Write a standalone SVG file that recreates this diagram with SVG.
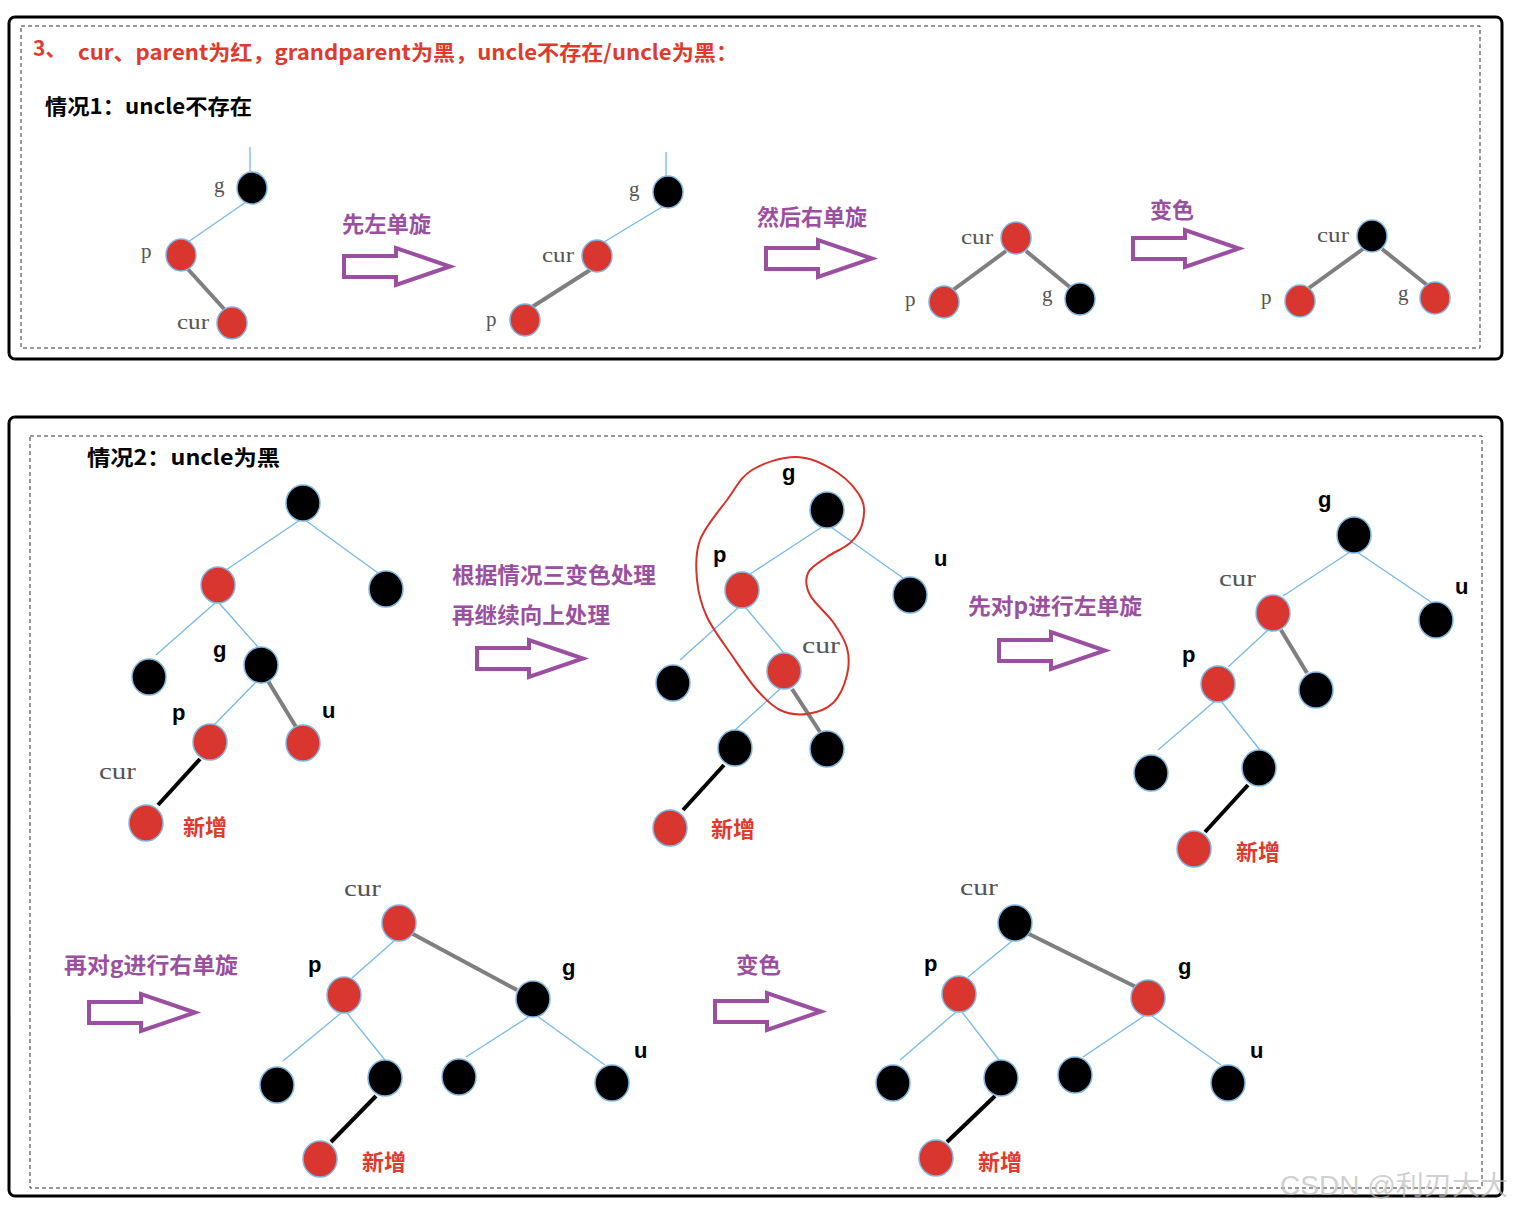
<svg xmlns="http://www.w3.org/2000/svg" width="1514" height="1211" viewBox="0 0 1514 1211">
<style>
.frame{fill:none;stroke:#000;stroke-width:3}
.dash{fill:none;stroke:#333;stroke-width:1;stroke-dasharray:4 3}
.b{fill:#000;stroke:#7fb6e2;stroke-width:1.5}
.r{fill:#d93630;stroke:#7fb6e2;stroke-width:1.5}
.ln{stroke:#78b8ea;stroke-width:1.3;fill:none}
.gl{stroke:#7f7f7f;stroke-width:4;fill:none}
.kl{stroke:#000;stroke-width:4;fill:none}
.arr{fill:#fff;stroke:#9a4fa0;stroke-width:4}
.title{font-family:"Noto Sans CJK SC","Liberation Sans",sans-serif;font-weight:bold;font-size:21px;fill:#e03a2e}
.head{font-family:"Noto Sans CJK SC","Liberation Sans",sans-serif;font-weight:bold;font-size:21px;fill:#000}
.pu{font-family:"Noto Sans CJK SC","Liberation Sans",sans-serif;font-weight:bold;font-size:22px;fill:#9a4fa0}
.new{font-family:"Noto Sans CJK SC",sans-serif;font-weight:bold;font-size:22px;fill:#e03a2e}
.sl{font-family:"Liberation Serif",serif;font-size:21px;fill:#555}
.sl2{font-family:"Liberation Serif",serif;font-size:24px;fill:#555}
.bl{font-family:"Liberation Sans",Arial,sans-serif;font-weight:bold;font-size:22px;fill:#000}
.wm{font-family:"Liberation Sans","Noto Sans CJK SC",sans-serif;font-size:27px;fill:#bbb;fill-opacity:0.7}
</style>
<defs>
<path id="arrow" class="arr" d="M0,8 H52 V0 L106,18.5 L52,37 V29 H0 Z"/>
</defs>

<g id="panel1">
<rect class="frame" x="9" y="17" width="1493" height="342" rx="6"/>
<rect class="dash" x="21" y="26" width="1459" height="322"/>
<text class="title" x="33" y="56">3、</text>
<text class="title" x="78" y="60" textLength="660" lengthAdjust="spacingAndGlyphs">cur、parent为红，grandparent为黑，uncle不存在/uncle为黑：</text>
<text class="head" x="45" y="114" textLength="207" lengthAdjust="spacingAndGlyphs">情况1：uncle不存在</text>
</g>

<g id="panel2">
<rect class="frame" x="9" y="417" width="1493" height="779" rx="6"/>
<rect class="dash" x="30" y="436" width="1452" height="752"/>
<text class="head" x="87" y="465" textLength="193" lengthAdjust="spacingAndGlyphs">情况2：uncle为黑</text>
</g>

<g id="connectors">
<!-- case 1 tree 1 -->
<line class="ln" x1="250" y1="147" x2="250" y2="174"/>
<line class="ln" x1="246" y1="202" x2="188" y2="242"/>
<line class="gl" x1="186" y1="267" x2="225" y2="310"/>
<!-- case 1 tree 2 -->
<line class="ln" x1="666" y1="152" x2="666" y2="179"/>
<line class="ln" x1="662" y1="207" x2="604" y2="242"/>
<line class="gl" x1="590" y1="270" x2="532" y2="307"/>
<!-- case 1 tree 3 -->
<line class="gl" x1="1006" y1="251" x2="953" y2="290"/>
<line class="gl" x1="1026" y1="251" x2="1071" y2="288"/>
<!-- case 1 tree 4 -->
<line class="gl" x1="1363" y1="249" x2="1309" y2="288"/>
<line class="gl" x1="1382" y1="249" x2="1427" y2="285"/>
<!-- tree A -->
<line class="ln" x1="300" y1="520" x2="226" y2="570"/>
<line class="ln" x1="305" y1="520" x2="378" y2="573"/>
<line class="ln" x1="215" y1="603" x2="156" y2="655"/>
<line class="ln" x1="219" y1="603" x2="258" y2="647"/>
<line class="ln" x1="256" y1="682" x2="214" y2="725"/>
<line class="gl" x1="268" y1="681" x2="296" y2="727"/>
<line class="kl" x1="200" y1="759" x2="158" y2="805"/>
<!-- tree B -->
<line class="ln" x1="822" y1="527" x2="750" y2="574"/>
<line class="ln" x1="831" y1="527" x2="903" y2="578"/>
<line class="ln" x1="739" y1="607" x2="680" y2="660"/>
<line class="ln" x1="745" y1="607" x2="784" y2="653"/>
<line class="ln" x1="780" y1="689" x2="735" y2="730"/>
<line class="gl" x1="792" y1="689" x2="820" y2="732"/>
<line class="kl" x1="724" y1="765" x2="683" y2="810"/>
<!-- tree C -->
<line class="ln" x1="1350" y1="552" x2="1283" y2="596"/>
<line class="ln" x1="1357" y1="552" x2="1431" y2="602"/>
<line class="ln" x1="1268" y1="630" x2="1228" y2="667"/>
<line class="gl" x1="1281" y1="630" x2="1307" y2="673"/>
<line class="ln" x1="1215" y1="701" x2="1158" y2="750"/>
<line class="ln" x1="1221" y1="701" x2="1260" y2="750"/>
<line class="kl" x1="1248" y1="785" x2="1205" y2="832"/>
<!-- tree D -->
<line class="ln" x1="394" y1="941" x2="352" y2="978"/>
<line class="gl" x1="411" y1="933" x2="517" y2="990"/>
<line class="ln" x1="341" y1="1013" x2="283" y2="1061"/>
<line class="ln" x1="347" y1="1013" x2="385" y2="1060"/>
<line class="ln" x1="530" y1="1016" x2="466" y2="1057"/>
<line class="ln" x1="537" y1="1016" x2="605" y2="1065"/>
<line class="kl" x1="376" y1="1096" x2="331" y2="1142"/>
<!-- tree E -->
<line class="ln" x1="1012" y1="941" x2="968" y2="977"/>
<line class="gl" x1="1027" y1="933" x2="1136" y2="987"/>
<line class="ln" x1="956" y1="1012" x2="900" y2="1060"/>
<line class="ln" x1="962" y1="1012" x2="999" y2="1060"/>
<line class="ln" x1="1144" y1="1016" x2="1083" y2="1057"/>
<line class="ln" x1="1152" y1="1016" x2="1221" y2="1065"/>
<line class="kl" x1="995" y1="1096" x2="947" y2="1142"/>
</g>

<g id="arrows">
<use href="#arrow" x="344" y="248"/>
<text class="pu" x="342" y="232" textLength="89" lengthAdjust="spacingAndGlyphs">先左单旋</text>
<use href="#arrow" x="766" y="240"/>
<text class="pu" x="757" y="225" textLength="110" lengthAdjust="spacingAndGlyphs">然后右单旋</text>
<use href="#arrow" x="1133" y="230"/>
<text class="pu" x="1150" y="218" textLength="44" lengthAdjust="spacingAndGlyphs">变色</text>
<use href="#arrow" x="477" y="640"/>
<text class="pu" x="452" y="583" textLength="204" lengthAdjust="spacingAndGlyphs">根据情况三变色处理</text>
<text class="pu" x="452" y="623" textLength="158" lengthAdjust="spacingAndGlyphs">再继续向上处理</text>
<use href="#arrow" x="999" y="632"/>
<text class="pu" x="968" y="614" textLength="174" lengthAdjust="spacingAndGlyphs">先对p进行左单旋</text>
<use href="#arrow" x="89" y="994"/>
<text class="pu" x="64" y="973" textLength="174" lengthAdjust="spacingAndGlyphs">再对g进行右单旋</text>
<use href="#arrow" x="715" y="993"/>
<text class="pu" x="736" y="973" textLength="45" lengthAdjust="spacingAndGlyphs">变色</text>
</g>

<g id="case1-tree1">
<ellipse class="b" cx="252" cy="188" rx="15" ry="16"/>
<ellipse class="r" cx="181" cy="255" rx="15" ry="16"/>
<ellipse class="r" cx="232" cy="323" rx="15" ry="16"/>
<text class="sl" x="214" y="192">g</text>
<text class="sl" x="141" y="258">p</text>
<text class="sl" x="177" y="329" textLength="32" lengthAdjust="spacingAndGlyphs">cur</text>
</g>
<g id="case1-tree2">
<ellipse class="b" cx="668" cy="192" rx="15" ry="16"/>
<ellipse class="r" cx="597" cy="256" rx="15" ry="16"/>
<ellipse class="r" cx="525" cy="320" rx="15" ry="16"/>
<text class="sl" x="629" y="196">g</text>
<text class="sl" x="542" y="262" textLength="32" lengthAdjust="spacingAndGlyphs">cur</text>
<text class="sl" x="486" y="326">p</text>
</g>
<g id="case1-tree3">
<ellipse class="r" cx="1016" cy="238" rx="15" ry="16"/>
<ellipse class="r" cx="944" cy="302" rx="15" ry="16"/>
<ellipse class="b" cx="1080" cy="299" rx="15" ry="16"/>
<text class="sl" x="961" y="244" textLength="32" lengthAdjust="spacingAndGlyphs">cur</text>
<text class="sl" x="905" y="306">p</text>
<text class="sl" x="1042" y="301">g</text>
</g>
<g id="case1-tree4">
<ellipse class="b" cx="1372" cy="236" rx="15" ry="16"/>
<ellipse class="r" cx="1300" cy="301" rx="15" ry="16"/>
<ellipse class="r" cx="1435" cy="298" rx="15" ry="16"/>
<text class="sl" x="1317" y="242" textLength="32" lengthAdjust="spacingAndGlyphs">cur</text>
<text class="sl" x="1261" y="304">p</text>
<text class="sl" x="1398" y="300">g</text>
</g>

<g id="case2-treeA">
<ellipse class="b" cx="303" cy="503" rx="17" ry="18"/>
<ellipse class="r" cx="218" cy="585" rx="17" ry="18"/>
<ellipse class="b" cx="386" cy="589" rx="17" ry="18"/>
<ellipse class="b" cx="149" cy="677" rx="17" ry="18"/>
<ellipse class="b" cx="261" cy="665" rx="17" ry="18"/>
<ellipse class="r" cx="210" cy="742" rx="17" ry="18"/>
<ellipse class="r" cx="303" cy="743" rx="17" ry="18"/>
<ellipse class="r" cx="146" cy="823" rx="17" ry="18"/>
<text class="bl" x="213" y="657">g</text>
<text class="bl" x="172" y="720">p</text>
<text class="bl" x="322" y="718">u</text>
<text class="sl2" x="99" y="779" textLength="37" lengthAdjust="spacingAndGlyphs">cur</text>
<text class="new" x="183" y="835">新增</text>
</g>

<g id="case2-treeB">
<path d="M797,457 C811.3,457.5 827.2,465.8 838,473 S858,491.3 862,500 S864,517.8 862,525 S855.8,537.7 850,543 S834,552 827,557 S810.8,566.7 808,573 S805.8,586.8 810,595 S826.8,613.2 833,622 S844.7,639.2 847,648 S849.3,665.8 847,675 S839.7,696.5 833,703 S815.8,712.8 807,714 S788.3,714 780,710 S764.8,698.8 757,690 S741.3,669.2 733,657 S713,629.8 707,617 S698.2,592.8 697,580 S695,553.3 700,540 S718.3,511.7 727,500 S740.3,477.2 752,470 S782.7,456.5 797,457 Z" fill="none" stroke="#d9302a" stroke-width="2"/>
<ellipse class="b" cx="827" cy="510" rx="17" ry="18"/>
<ellipse class="r" cx="742" cy="590" rx="17" ry="18"/>
<ellipse class="b" cx="910" cy="595" rx="17" ry="18"/>
<ellipse class="b" cx="673" cy="683" rx="17" ry="18"/>
<ellipse class="r" cx="784" cy="671" rx="17" ry="18"/>
<ellipse class="b" cx="735" cy="748" rx="17" ry="18"/>
<ellipse class="b" cx="827" cy="749" rx="17" ry="18"/>
<ellipse class="r" cx="670" cy="828" rx="17" ry="18"/>
<text class="bl" x="782" y="480">g</text>
<text class="bl" x="713" y="562">p</text>
<text class="bl" x="934" y="566">u</text>
<text class="sl2" x="802" y="653" textLength="38" lengthAdjust="spacingAndGlyphs">cur</text>
<text class="new" x="711" y="837">新增</text>
</g>

<g id="case2-treeC">
<ellipse class="b" cx="1354" cy="535" rx="17" ry="18"/>
<ellipse class="r" cx="1273" cy="613" rx="17" ry="18"/>
<ellipse class="b" cx="1436" cy="620" rx="17" ry="18"/>
<ellipse class="r" cx="1218" cy="684" rx="17" ry="18"/>
<ellipse class="b" cx="1316" cy="690" rx="17" ry="18"/>
<ellipse class="b" cx="1151" cy="773" rx="17" ry="18"/>
<ellipse class="b" cx="1259" cy="768" rx="17" ry="18"/>
<ellipse class="r" cx="1194" cy="849" rx="17" ry="18"/>
<text class="bl" x="1318" y="507">g</text>
<text class="sl2" x="1219" y="586" textLength="37" lengthAdjust="spacingAndGlyphs">cur</text>
<text class="bl" x="1455" y="594">u</text>
<text class="bl" x="1182" y="662">p</text>
<text class="new" x="1236" y="860">新增</text>
</g>

<g id="case2-treeD">
<ellipse class="r" cx="399" cy="923" rx="17" ry="18"/>
<ellipse class="r" cx="344" cy="995" rx="17" ry="18"/>
<ellipse class="b" cx="533" cy="999" rx="17" ry="18"/>
<ellipse class="b" cx="277" cy="1085" rx="17" ry="18"/>
<ellipse class="b" cx="385" cy="1078" rx="17" ry="18"/>
<ellipse class="b" cx="459" cy="1077" rx="17" ry="18"/>
<ellipse class="b" cx="612" cy="1083" rx="17" ry="18"/>
<ellipse class="r" cx="320" cy="1159" rx="17" ry="18"/>
<text class="sl2" x="344" y="896" textLength="37" lengthAdjust="spacingAndGlyphs">cur</text>
<text class="bl" x="308" y="972">p</text>
<text class="bl" x="562" y="975">g</text>
<text class="bl" x="634" y="1058">u</text>
<text class="new" x="362" y="1170">新增</text>
</g>

<g id="case2-treeE">
<ellipse class="b" cx="1015" cy="923" rx="17" ry="18"/>
<ellipse class="r" cx="959" cy="994" rx="17" ry="18"/>
<ellipse class="r" cx="1148" cy="998" rx="17" ry="18"/>
<ellipse class="b" cx="893" cy="1083" rx="17" ry="18"/>
<ellipse class="b" cx="1001" cy="1078" rx="17" ry="18"/>
<ellipse class="b" cx="1075" cy="1075" rx="17" ry="18"/>
<ellipse class="b" cx="1228" cy="1083" rx="17" ry="18"/>
<ellipse class="r" cx="936" cy="1158" rx="17" ry="18"/>
<text class="sl2" x="960" y="895" textLength="38" lengthAdjust="spacingAndGlyphs">cur</text>
<text class="bl" x="924" y="971">p</text>
<text class="bl" x="1178" y="974">g</text>
<text class="bl" x="1250" y="1058">u</text>
<text class="new" x="978" y="1170">新增</text>
</g>

<text class="wm" x="1280" y="1195" textLength="228" lengthAdjust="spacingAndGlyphs">CSDN @利刃大大</text>
</svg>
